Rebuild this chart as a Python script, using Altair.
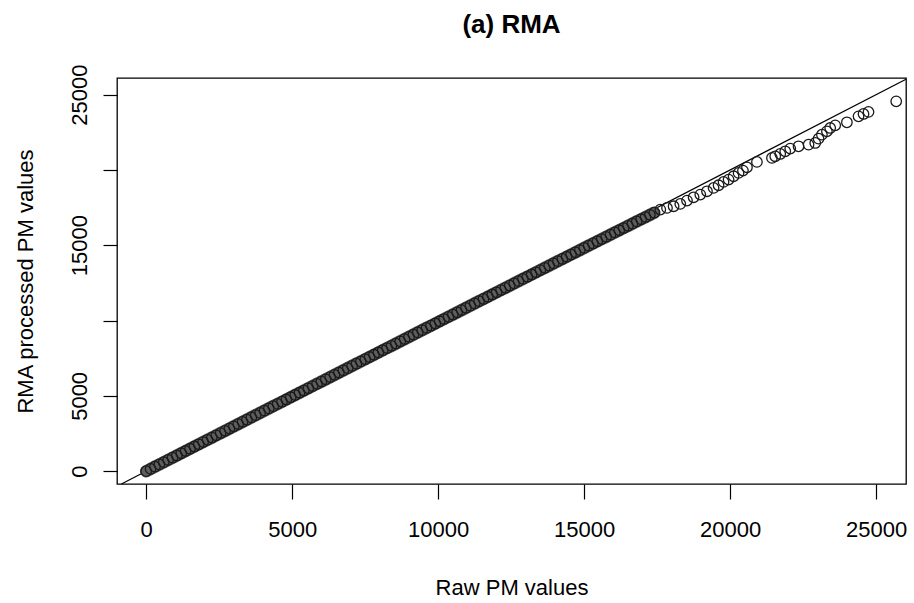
import altair as alt
import pandas as pd

# Dense part of the cloud (raw PM value, RMA processed value)
dense_x = [0, 150, 300, 450, 600, 750, 900, 1050, 1200, 1350, 1500, 1650, 1800, 1950,
           2100, 2250, 2400, 2550, 2700, 2850, 3000, 3150, 3300, 3450, 3600, 3750, 3900,
           4050, 4200, 4350, 4500, 4650, 4800, 4950, 5100, 5250, 5400, 5550, 5700, 5850,
           6000, 6150, 6300, 6450, 6600, 6750, 6900, 7050, 7200, 7350, 7500, 7650, 7800,
           7950, 8100, 8250, 8400, 8550, 8700, 8850, 9000, 9150, 9300, 9450, 9600, 9750,
           9900, 10050, 10200, 10350, 10500, 10650, 10800, 10950, 11100, 11250, 11400,
           11550, 11700, 11850, 12000, 12150, 12300, 12450, 12600, 12750, 12900, 13050,
           13200, 13350, 13500, 13650, 13800, 13950, 14100, 14250, 14400, 14550, 14700,
           14850, 15000, 15150, 15300, 15450, 15600, 15750, 15900, 16050, 16200, 16350,
           16500, 16650, 16800, 16950, 17100, 17250, 17400]
dense_y = [0, 150, 300, 448, 597, 746, 895, 1043, 1192, 1341, 1490, 1638, 1787, 1936,
           2085, 2233, 2382, 2531, 2680, 2828, 2977, 3126, 3275, 3423, 3572, 3721, 3869,
           4018, 4167, 4315, 4464, 4612, 4761, 4910, 5058, 5207, 5355, 5504, 5652, 5801,
           5949, 6098, 6246, 6394, 6543, 6691, 6840, 6988, 7137, 7285, 7433, 7582, 7730,
           7878, 8027, 8175, 8323, 8472, 8620, 8768, 8916, 9065, 9213, 9361, 9509, 9657,
           9805, 9953, 10101, 10249, 10397, 10545, 10693, 10841, 10989, 11137, 11285,
           11433, 11580, 11728, 11876, 12024, 12171, 12319, 12467, 12614, 12762, 12909,
           13057, 13204, 13352, 13499, 13646, 13794, 13941, 14088, 14235, 14382, 14529,
           14676, 14823, 14970, 15117, 15263, 15410, 15556, 15703, 15849, 15995, 16141,
           16287, 16433, 16579, 16724, 16870, 17015, 17160]

# Sparse upper tail
sparse_x = [17606, 17835, 18061, 18290, 18520, 18746, 18975, 19204, 19431, 19601,
            19772, 19944, 20115, 20286, 20436, 20574, 20915, 21429, 21542, 21713,
            21885, 22056, 22340, 22683, 22911, 23025, 23140, 23311, 23424, 23596,
            23996, 24394, 24565, 24736, 25685]
sparse_y = [17365, 17476, 17586, 17741, 17962, 18183, 18360, 18581, 18802, 18980,
            19200, 19356, 19577, 19798, 19953, 20174, 20528, 20793, 20904, 21058,
            21235, 21413, 21567, 21677, 21788, 22075, 22341, 22562, 22783, 22960,
            23160, 23558, 23713, 23846, 24552]

x_ticks = [0, 5000, 10000, 15000, 20000, 25000]
y_ticks = [0, 5000, 10000, 15000, 20000, 25000]
ref_line = [-850, 26020]  # identity line y = x, edge to edge of the plot

pts = pd.DataFrame({"raw": dense_x + sparse_x, "rma": dense_y + sparse_y})
band = pd.DataFrame({"raw": dense_x, "rma": dense_y})
line_df = pd.DataFrame({"raw": ref_line, "rma": ref_line})

FONT = "Liberation Sans"
xs = alt.Scale(domain=[-1000, 26020], nice=False, zero=False)
ys = alt.Scale(domain=[-850, 26100], nice=False, zero=False)

x_axis = alt.Axis(values=x_ticks, format="d", grid=False, domain=False,
                  tickSize=15, tickColor="black", tickWidth=1.2,
                  labelFont=FONT, labelFontSize=22, labelColor="black",
                  labelPadding=20, labelBaseline="top", labelFlush=False,
                  labelOverlap=False,
                  titleFont=FONT, titleFontSize=22, titleFontWeight="normal",
                  titleColor="black", titleX=394.5, titleY=110,
                  titleBaseline="alphabetic", titleAlign="center")
y_axis = alt.Axis(values=y_ticks, format="d", grid=False, domain=False,
                  labelExpr="datum.value == 10000 || datum.value == 20000 ? '' : datum.label",
                  tickSize=14, tickColor="black", tickWidth=1.2,
                  labelFont=FONT, labelFontSize=22, labelColor="black",
                  labelAngle=270, labelAlign="center", labelBaseline="alphabetic",
                  labelPadding=17, labelFlush=False, labelOverlap=False,
                  titleFont=FONT, titleFontSize=22, titleFontWeight="normal",
                  titleColor="black", titleAngle=270, titleX=-85, titleY=203,
                  titleBaseline="alphabetic", titleAlign="center")

line = alt.Chart(line_df).mark_line(color="black", strokeWidth=1.2).encode(
    x=alt.X("raw:Q", scale=xs, axis=x_axis, title="Raw PM values"),
    y=alt.Y("rma:Q", scale=ys, axis=y_axis, title="RMA processed PM values"),
)
# overlapping circles in the dense part merge into a grey band
band_layer = alt.Chart(band).mark_line(color="#5e5e5e", strokeWidth=12.5,
                                       strokeCap="round").encode(
    x=alt.X("raw:Q", scale=xs),
    y=alt.Y("rma:Q", scale=ys),
)
points = alt.Chart(pts).mark_point(shape="circle", filled=False, size=110,
                                   stroke="#1a1a1a", strokeWidth=1.3, opacity=1).encode(
    x=alt.X("raw:Q", scale=xs),
    y=alt.Y("rma:Q", scale=ys),
)

chart = alt.layer(line, band_layer, points).properties(
    width=789, height=406,
    title=alt.TitleParams("(a) RMA", font=FONT, fontSize=26, fontWeight="bold",
                          color="black", anchor="middle", baseline="alphabetic",
                          offset=5),
    autosize=alt.AutoSizeParams(type="none"),
    padding={"left": 117, "top": 78, "right": 8, "bottom": 119},
    background="white",
).configure_view(stroke="black", strokeWidth=1.3)

chart.save("out.html", embed_options={"renderer": "svg", "actions": False})
